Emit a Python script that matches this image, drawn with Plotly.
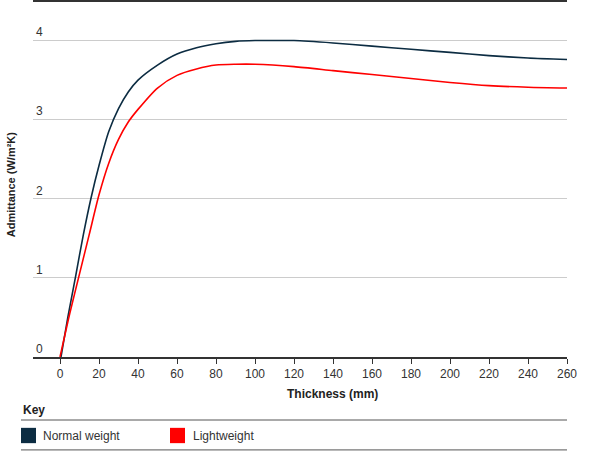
import plotly.graph_objects as go

# === Data ===
normal_x = [0.5, 4, 8, 12, 16, 20, 25, 30, 35, 40, 50, 60, 70, 80, 90,
            100, 110, 120, 140, 160, 180, 200, 220, 240, 260]
normal_y = [0.0, 0.5, 1.02, 1.55, 2.02, 2.42, 2.85, 3.14, 3.35, 3.5, 3.69, 3.83,
            3.91, 3.96, 3.99, 4.0, 4.0, 4.0, 3.97, 3.93, 3.89, 3.85, 3.81, 3.78, 3.76]

light_x = [0, 5, 10, 15, 20, 25, 30, 35, 40, 50, 60, 70, 80, 90, 100, 120,
           140, 160, 180, 200, 220, 240, 260]
light_y = [0.0, 0.55, 1.05, 1.55, 2.05, 2.45, 2.75, 2.97, 3.13, 3.4, 3.56, 3.64,
           3.69, 3.7, 3.7, 3.67, 3.62, 3.57, 3.52, 3.47, 3.43, 3.41, 3.4]

x_ticks = list(range(0, 261, 20))
y_ticks = [0, 1, 2, 3, 4]

NAVY = "#0c2c42"
RED = "#ff0000"
FONT = "Liberation Sans, Arial, sans-serif"

fig = go.Figure()
fig.add_trace(go.Scatter(x=normal_x, y=normal_y, mode="lines", name="Normal weight",
                         line=dict(color=NAVY, width=1.6, shape="spline", smoothing=0.7)))
fig.add_trace(go.Scatter(x=light_x, y=light_y, mode="lines", name="Lightweight",
                         line=dict(color=RED, width=1.6, shape="spline", smoothing=0.7)))

fig.update_layout(
    width=600, height=451,
    margin=dict(l=33, r=33, t=1, b=94),
    paper_bgcolor="white", plot_bgcolor="white",
    showlegend=False,
    font=dict(family=FONT, size=12, color="#333333"),
    xaxis=dict(range=[-13.85, 260], tickvals=x_ticks, showgrid=False, zeroline=False,
               showline=True, linecolor="#333333", linewidth=1.5,
               ticks="outside", ticklen=5, tickcolor="#333333", tickwidth=1,
               tickfont=dict(size=12, color="#333333")),
    yaxis=dict(range=[0, 4.5], tickvals=y_ticks, showgrid=True, gridcolor="#cccccc",
               gridwidth=1, zeroline=False, showline=False,
               ticklabelposition="inside top", tickfont=dict(size=12, color="#333333")),
)

# === Titles ===
fig.add_annotation(text="<b>Thickness (mm)</b>", xref="paper", yref="paper",
                   x=0.56, y=-0.104, xanchor="center", yanchor="middle", showarrow=False,
                   font=dict(size=12, color="#222222"))
fig.add_annotation(text="<b>Admittance (W/m²K)</b>", xref="paper", yref="paper",
                   x=-0.041, y=0.483, xanchor="center", yanchor="middle", textangle=-90,
                   showarrow=False, font=dict(size=11, color="#222222"))

# === Top rule ===
fig.add_shape(type="line", xref="paper", yref="paper", x0=0, x1=1, y0=1.0, y1=1.0,
              line=dict(color="#333333", width=2))

# === Key ===
fig.add_annotation(text="<b>Key</b>", xref="paper", yref="paper", x=-0.0225, y=-0.149,
                   xanchor="left", yanchor="middle", showarrow=False,
                   font=dict(size=12, color="#222222"))
for yy in [-0.177, -0.261]:
    fig.add_shape(type="line", xref="paper", yref="paper", x0=-0.0225, x1=1, y0=yy, y1=yy,
                  line=dict(color="#555555", width=1))
fig.add_shape(type="rect", xref="paper", yref="paper", x0=-0.0225, x1=0.0056,
              y0=-0.242, y1=-0.199, fillcolor=NAVY, line=dict(width=0))
fig.add_shape(type="rect", xref="paper", yref="paper", x0=0.2566, x1=0.2846,
              y0=-0.242, y1=-0.199, fillcolor=RED, line=dict(width=0))
fig.add_annotation(text="Normal weight", xref="paper", yref="paper", x=0.015, y=-0.221,
                   xanchor="left", yanchor="middle", showarrow=False,
                   font=dict(size=12, color="#333333"))
fig.add_annotation(text="Lightweight", xref="paper", yref="paper", x=0.296, y=-0.221,
                   xanchor="left", yanchor="middle", showarrow=False,
                   font=dict(size=12, color="#333333"))

# page body has a default margin; drop it so the figure sits at the window corner
fig.write_html("out.html", config={"displayModeBar": False},
               post_script="document.body.style.margin='0';")
